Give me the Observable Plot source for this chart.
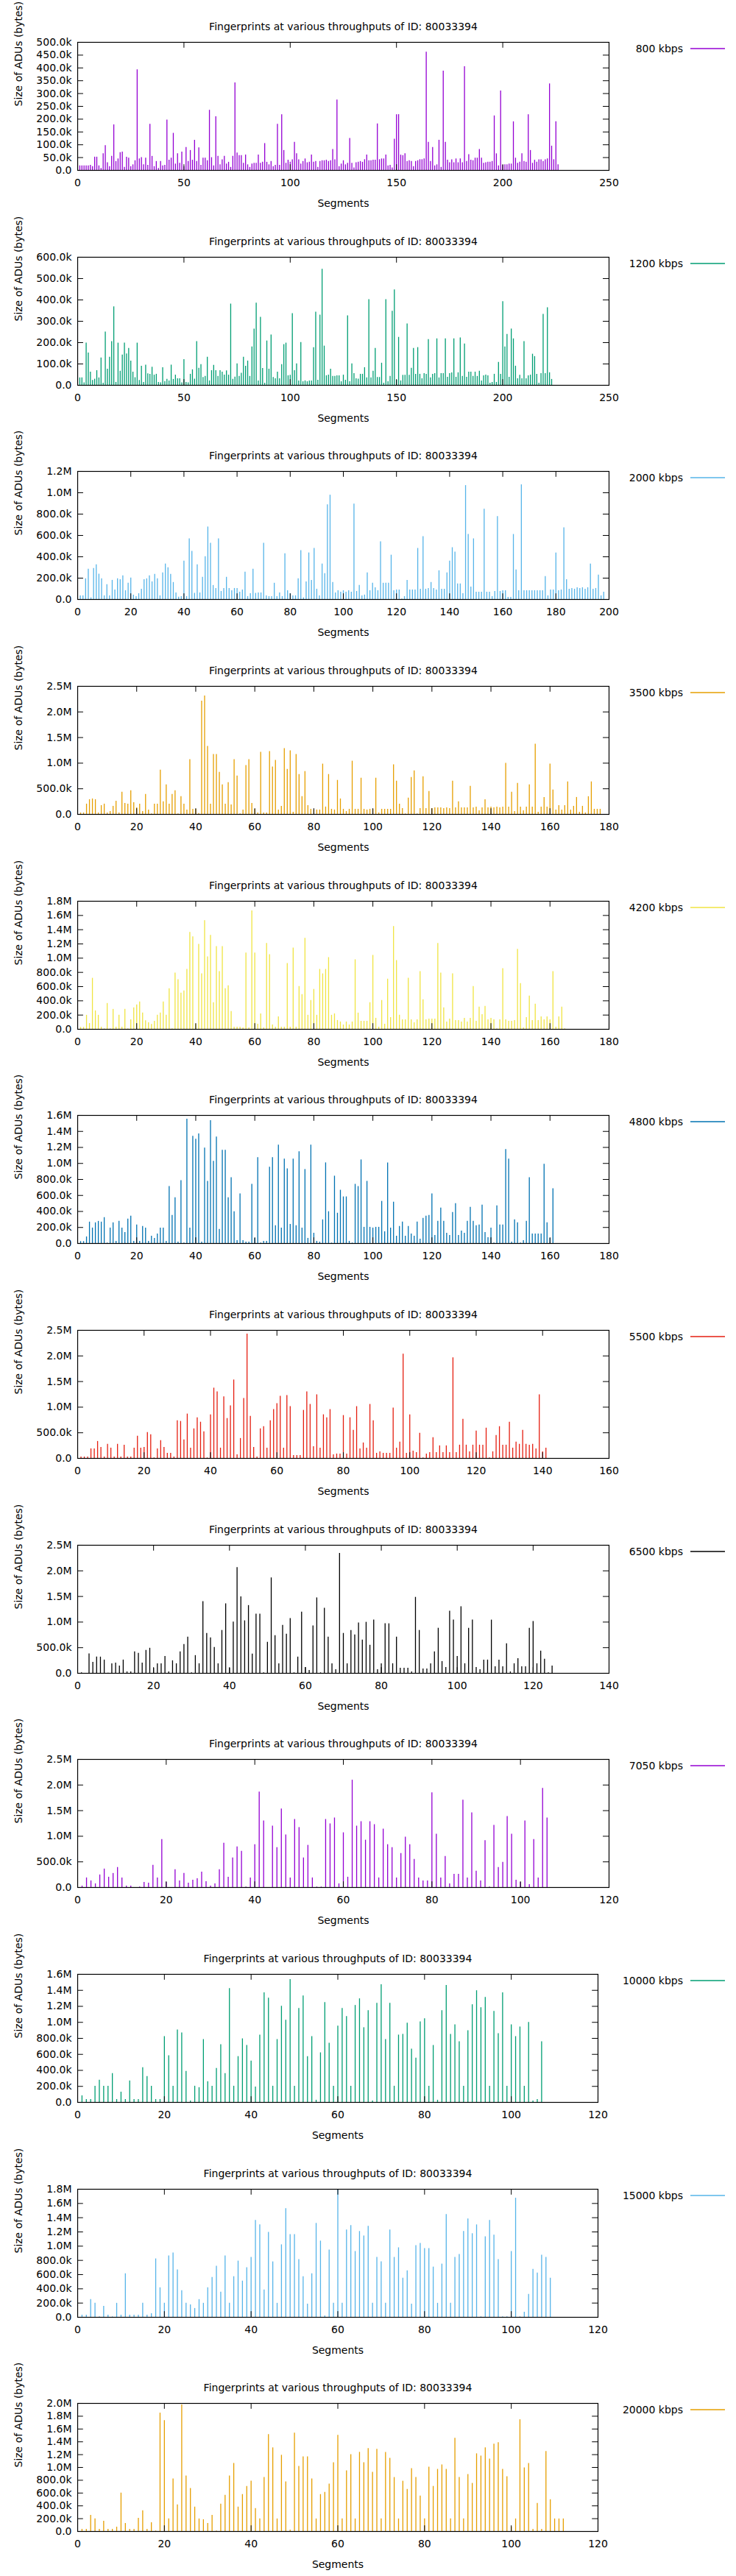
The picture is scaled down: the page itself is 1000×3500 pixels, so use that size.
<!DOCTYPE html>
<html>
<head>
<meta charset="utf-8">
<script src="https://cdn.jsdelivr.net/npm/d3@7"></script>
<script src="https://cdn.jsdelivr.net/npm/@observablehq/plot@0.6"></script>
<style>
  body { margin: 0; background: #fff; font-family: "DejaVu Sans", sans-serif; }
  #charts { position: relative; width: 1000px; height: 3500px; }
  #charts svg { position: absolute; left: 0; overflow: visible; }
</style>
</head>
<body>
<div id="charts"></div>
<script>
// ADU sizes per segment, in kB
const s800 = [18,18,18,18,18,20,15,52,52,18,8,65,97,30,15,55,178,35,45,70,72,12,52,48,15,22,38,393,45,50,22,48,20,180,55,15,35,8,35,18,20,197,40,48,145,25,65,28,72,15,90,35,78,40,118,35,88,20,48,48,38,235,50,18,210,55,22,42,55,25,32,12,55,342,68,58,58,28,60,22,12,25,28,28,60,28,32,105,32,22,35,15,20,180,20,218,78,28,40,32,42,110,65,42,25,35,45,30,32,60,32,35,12,35,38,38,40,35,38,82,42,275,15,25,38,22,28,125,28,10,30,32,35,32,42,60,38,38,40,40,182,42,45,45,60,18,20,10,122,218,218,60,58,65,35,38,35,15,35,38,42,42,45,462,110,35,90,18,22,118,12,388,110,40,30,42,30,45,30,45,30,405,35,62,40,38,48,48,82,48,28,30,32,32,35,213,65,18,310,20,22,22,25,25,190,48,28,32,65,35,32,218,78,28,40,32,42,42,35,42,45,338,95,42,190,22];
const s1200 = [35,35,12,198,152,62,23,29,69,35,128,10,250,76,132,205,368,14,198,66,142,198,147,173,114,62,36,198,23,90,14,95,54,52,85,48,52,14,12,83,18,28,21,95,28,48,31,31,12,121,14,12,52,73,29,205,80,97,37,42,132,21,69,94,69,42,69,62,48,68,48,381,28,39,101,42,57,132,90,114,42,180,264,385,21,319,79,10,208,76,236,37,31,62,31,97,191,198,45,47,336,69,101,21,201,17,21,17,21,21,177,343,24,329,544,184,45,48,76,42,42,45,45,17,48,24,326,17,101,55,31,29,52,52,83,35,402,35,66,173,37,37,104,10,402,17,42,347,447,24,225,21,47,47,288,47,80,173,52,177,52,31,55,52,215,35,52,55,218,35,55,55,218,38,55,59,218,38,59,222,42,194,38,62,62,42,62,42,66,21,45,48,45,10,14,52,14,108,52,392,180,239,38,264,218,90,31,47,31,205,31,45,48,146,135,52,10,55,333,55,364,59,28];
const s2000 = [35,35,194,284,16,291,326,238,194,35,139,35,180,90,194,187,222,83,153,201,42,28,55,97,187,194,222,166,236,194,35,250,333,298,236,160,62,23,28,361,28,569,451,58,326,62,208,402,680,527,132,104,569,76,104,208,104,83,104,104,69,90,257,28,55,284,58,62,62,527,35,28,28,153,28,62,28,430,83,55,35,35,194,458,16,166,437,180,479,97,35,333,243,888,978,160,62,83,69,83,69,83,69,895,76,132,35,42,250,83,153,111,83,541,153,153,153,416,83,90,90,5,28,180,90,90,90,479,97,590,97,104,160,104,90,270,97,97,250,361,486,444,146,146,55,1068,610,118,569,69,69,69,846,69,69,28,76,777,76,83,83,21,21,610,277,83,1075,83,83,83,83,83,83,83,83,215,35,90,90,437,83,90,673,187,97,104,97,111,104,111,97,111,333,97,104,229,35,69];
const s3500 = [29,29,202,289,303,289,29,173,202,29,58,159,260,29,434,217,202,462,231,130,202,58,390,87,10,202,202,867,246,578,202,390,462,10,347,202,87,1069,101,101,19,2211,2312,1329,202,1171,1171,824,578,202,621,188,1069,751,10,87,954,1069,217,101,29,1214,29,29,1228,925,1055,87,159,1286,881,1243,43,1171,780,347,838,173,101,87,87,87,983,145,780,101,87,665,303,101,58,101,1040,101,101,708,101,87,101,101,708,29,101,101,101,101,968,650,202,116,10,318,723,853,10,116,737,116,448,116,130,130,130,116,130,116,650,130,246,130,130,130,549,130,145,72,130,289,130,145,130,145,130,145,997,145,434,58,607,145,72,145,578,145,1373,43,145,332,145,983,477,87,173,87,173,636,87,159,332,43,159,29,347,636,101,101,101];
const s4200 = [28,28,198,83,718,260,198,31,7,364,7,281,31,198,31,281,7,135,302,343,385,229,121,94,69,114,198,229,385,198,572,7,791,697,510,541,843,1363,1300,69,1196,780,1529,1020,1321,375,1165,812,1165,572,614,250,31,31,31,21,1072,21,1665,1072,73,218,21,1207,1051,62,31,177,31,31,926,31,1144,31,603,489,1280,198,406,562,198,843,780,843,1009,198,218,125,104,62,104,62,104,978,229,114,114,114,375,1040,156,31,406,73,707,166,1446,968,198,135,135,718,135,94,135,812,416,135,146,146,146,1207,791,302,104,146,780,125,125,104,156,104,156,603,114,312,208,323,135,156,135,7,135,853,135,114,114,125,1124,645,21,166,468,125,354,125,177,135,177,135,812,31,177,312,7];
const s4800 = [25,25,83,268,194,259,277,268,324,6,194,259,28,277,194,139,305,342,28,231,28,213,194,28,92,65,120,194,194,28,712,351,573,18,786,6,1554,194,1341,1304,1369,18,1193,777,1535,1027,1332,176,1165,1165,573,823,398,37,620,37,18,18,740,65,1073,6,28,28,953,1073,222,1230,194,1054,934,240,1054,222,1147,194,925,65,1230,129,28,18,296,1008,398,6,842,379,666,583,583,28,6,740,712,1045,203,777,203,194,203,203,527,148,1008,194,518,92,213,268,92,213,120,92,268,55,314,342,351,620,102,277,444,277,129,102,388,499,102,157,129,277,453,277,222,231,481,139,74,194,6,472,231,231,1175,1054,18,296,259,6,37,277,823,120,120,120,120,990,259,65,684];
const s5500 = [29,29,29,188,188,332,217,29,275,202,29,275,29,260,29,29,202,434,202,217,506,462,10,188,347,217,101,101,29,737,723,361,867,202,578,795,708,520,10,853,1373,1301,202,1204,780,1026,1532,72,390,1171,2428,824,217,29,578,621,202,737,954,1069,1214,202,1228,1012,58,58,58,939,1301,1055,231,1243,202,853,795,954,72,87,87,838,87,795,549,1012,188,303,202,1055,737,101,130,101,101,101,983,202,318,2037,101,853,145,116,491,10,87,116,405,116,246,116,246,116,1965,116,260,766,260,130,260,534,260,260,592,10,130,448,621,260,260,708,202,318,275,549,275,260,275,188,1243,130,202];
const s6500 = [10,0,380,217,318,318,260,5,188,202,145,260,29,29,419,390,202,448,491,101,188,188,332,29,246,188,419,563,708,10,347,188,1401,780,694,506,188,838,1358,101,1002,2067,1493,1026,1324,376,1156,1156,10,607,1864,737,188,939,766,1069,10,318,1195,116,58,925,1474,10,1272,708,188,72,2341,780,188,838,751,983,650,997,549,1040,72,188,968,968,188,708,101,101,101,29,1484,838,87,87,188,419,881,231,116,1214,1040,332,1301,188,881,1040,116,72,260,260,1040,130,260,130,578,29,188,289,130,130,881,1012,188,434,275,10,145];
const s7050 = [29,188,130,72,246,361,202,275,390,188,29,29,0,10,101,87,434,188,939,101,0,347,130,275,87,145,173,303,116,29,72,347,867,202,578,795,708,10,188,838,1864,1301,0,1199,780,1532,1026,188,1329,1171,578,824,188,10,10,1329,1243,1358,72,1069,202,2096,1199,1286,925,1286,1228,188,1141,838,780,188,665,983,838,549,188,130,130,1850,1040,188,607,72,260,260,1705,188,1459,318,130,915,10,1214,390,491,1387,1040,145,101,1301,58,939,188,1936,1358];
const s10000 = [83,37,37,203,277,203,203,361,37,129,37,268,37,37,435,324,203,37,37,823,583,203,906,869,388,18,203,185,786,259,203,425,721,361,1424,203,573,795,712,518,194,842,1369,1304,203,786,1202,1027,1535,203,1175,1332,573,823,28,620,1249,740,203,953,1175,1073,203,1212,1295,934,1147,18,1239,1471,786,1239,203,842,851,990,666,555,1008,1045,203,712,28,1147,1461,851,971,758,203,897,1221,1396,1184,1313,203,1138,860,1369,203,971,823,943,203,999,18,37,758];
const s15000 = [31,31,250,198,7,156,31,7,198,31,614,31,31,31,198,31,52,822,416,198,864,905,666,375,198,177,125,250,198,416,562,718,354,864,198,572,791,510,697,843,1363,1300,385,1196,780,198,1020,1529,1165,1165,812,572,187,614,1321,1072,21,947,198,1789,198,1228,1290,926,1207,1144,1280,198,843,780,198,1228,843,978,551,655,187,1009,1040,968,968,707,198,749,1446,198,843,884,1207,1384,1176,1300,7,1134,1363,1155,812,7,7,926,1675,7,73,323,676,624,874,843,551];
const s20000 = [35,35,254,197,35,162,35,35,69,601,127,35,35,208,324,35,139,8,1850,1734,197,821,416,1977,867,671,382,197,185,127,254,8,428,567,867,1064,382,578,705,786,358,197,844,1515,1307,197,1191,775,23,1538,1017,1168,1168,821,197,578,613,740,1075,1503,197,948,1202,197,1237,1075,1295,925,1283,197,1237,1145,844,197,786,659,983,844,555,197,1006,705,971,1041,971,197,1457,844,197,890,752,1214,1179,1307,1133,1364,1387,971,856,73,197,1746,994,1064,35,439,35,1249,497,197,197,197];

const series = [s800, s1200, s2000, s3500, s4200, s4800, s5500, s6500, s7050, s10000, s15000, s20000];
const kbps = [800, 1200, 2000, 3500, 4200, 4800, 5500, 6500, 7050, 10000, 15000, 20000];
const xMax = [250, 250, 200, 180, 180, 180, 160, 140, 120, 120, 120, 120];
const yMax = [500e3, 600e3, 1.2e6, 2.5e6, 1.8e6, 1.6e6, 2.5e6, 2.5e6, 2.5e6, 1.6e6, 1.8e6, 2.0e6];
const yStep = [50e3, 100e3, 200e3, 500e3, 200e3, 200e3, 500e3, 500e3, 500e3, 200e3, 200e3, 200e3];
const colors = ["#9400d3", "#009e73", "#56b4e9", "#e69f00", "#f0e442", "#0072b2", "#e51e10", "#000000"];
const title = "Fingerprints at various throughputs of ID: 80033394";

const fmtY = v => v === 0 ? "0.0" : v < 1e6 ? (v / 1e3).toFixed(1) + "k" : (v / 1e6).toFixed(1) + "M";
const panelH = 3500 / 12;
const font = "DejaVu Sans, sans-serif";

series.forEach((vals, k) => {
  const data = vals.map((v, i) => ({seg: i + 1, size: v * 1000}));
  const color = colors[k % colors.length];
  const xt = d3.range(0, xMax[k] + 1, xMax[k] > 200 ? 50 : 20);
  const yt = d3.range(0, yMax[k] + 1, yStep[k]);
  const right = k >= 9 ? 188 : 173;
  const svg = Plot.plot({
    width: 1000,
    height: panelH,
    marginLeft: 105,
    marginRight: right,
    marginTop: 57,
    marginBottom: panelH - 231,
    style: {fontFamily: font, fontSize: "14px", color: "black"},
    x: {domain: [0, xMax[k]]},
    y: {domain: [0, yMax[k]]},
    marks: [
      Plot.ruleX(data, {x: "seg", y1: 0, y2: "size", stroke: color, strokeWidth: 1.3}),
      // inward ticks on all four sides
      Plot.ruleY(yt, {y: d => d, x1: 0, x2: xMax[k] * 0.011, stroke: "black"}),
      Plot.ruleY(yt, {y: d => d, x1: xMax[k] * 0.989, x2: xMax[k], stroke: "black"}),
      Plot.ruleX(xt, {x: d => d, y1: 0, y2: yMax[k] * 0.045, stroke: "black"}),
      Plot.ruleX(xt, {x: d => d, y1: yMax[k] * 0.955, y2: yMax[k], stroke: "black"}),
      Plot.axisY(yt, {tickSize: 0, tickPadding: 8, tickFormat: fmtY, label: null, fontSize: 14}),
      Plot.axisX(xt, {tickSize: 0, tickPadding: 12, label: null, fontSize: 14}),
      Plot.frame({stroke: "black", strokeWidth: 1.2}),
      Plot.text([title], {frameAnchor: "top", dy: -26, fontSize: 14}),
      Plot.text(["Segments"], {frameAnchor: "bottom", dy: 50, fontSize: 14}),
      Plot.text(["Size of ADUs (bytes)"], {frameAnchor: "left", dx: -80, rotate: -90, fontSize: 14})
    ]
  });
  svg.style.top = (k * panelH) + "px";
  const g = d3.select(svg).append("g");
  g.append("text").attr("x", 928).attr("y", 71).attr("text-anchor", "end")
    .attr("font-size", 14).attr("font-family", font).text(kbps[k] + " kbps");
  g.append("line").attr("x1", 938).attr("x2", 985).attr("y1", 66).attr("y2", 66)
    .attr("stroke", color).attr("stroke-width", 1.3);
  document.getElementById("charts").append(svg);
});
</script>
</body>
</html>
